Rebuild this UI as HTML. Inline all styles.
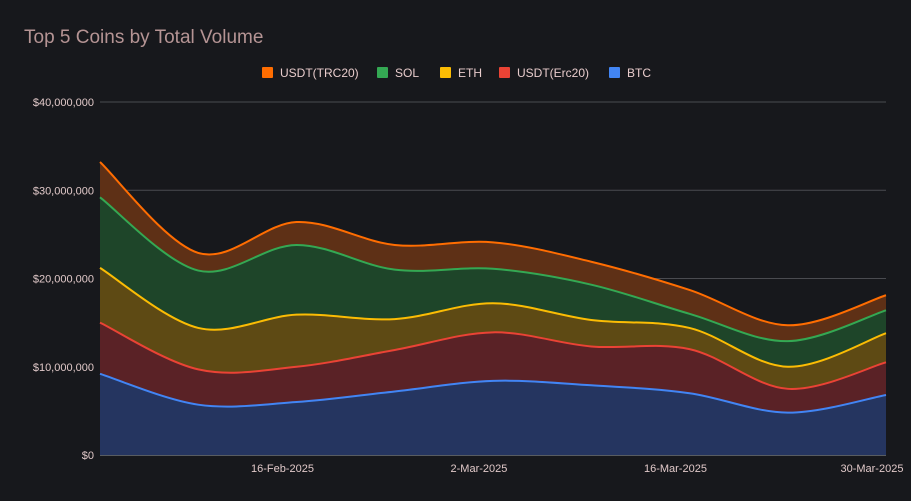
<!DOCTYPE html>
<html><head><meta charset="utf-8"><style>
html,body{margin:0;padding:0;background:#17181c;}
svg{display:block;font-family:"Liberation Sans",Arial,sans-serif;}
</style></head><body>
<svg id="chart" width="911" height="501">
<rect width="911" height="501" fill="#17181c"/>
<text x="24" y="43" font-size="19" fill="#b59494">Top 5 Coins by Total Volume</text>
<g id="grid"></g><g id="areas"></g><g id="lines"></g><g id="axes"></g><g id="legend"></g>
</svg>
<script>
const seriesNames = ["BTC","USDT(Erc20)","ETH","SOL","USDT(TRC20)"];
const dates = ["2025-02-03","2025-02-10","2025-02-17","2025-02-24","2025-03-03","2025-03-10","2025-03-17","2025-03-24","2025-03-31"];
const btc =   [9.2,5.7,6.0,7.2,8.4,7.9,7.0,4.8,6.8];
const erc20 = [5.8,4.0,4.0,4.7,5.5,4.4,5.0,2.7,3.7];
const eth =   [6.2,4.7,5.9,3.5,3.3,3.0,2.4,2.5,3.3];
const sol =   [8.0,6.5,7.9,5.6,3.9,4.0,1.6,2.9,2.6];
const trc20 = [4.0,2.0,2.6,2.8,3.0,2.6,2.7,1.8,1.7];
const yTicks = [0,10,20,30,40];
const yTickLabels = ["$0","$10,000,000","$20,000,000","$30,000,000","$40,000,000"];
const xTickDates = ["2025-02-16","2025-03-02","2025-03-16","2025-03-30"];
const xTickLabels = ["16-Feb-2025","2-Mar-2025","16-Mar-2025","30-Mar-2025"];

const NS="http://www.w3.org/2000/svg";
const L=100,R=886,T=102,B=455;
const t0=Date.parse(dates[0]),t1=Date.parse(dates[dates.length-1]);
const x=d=>L+(Date.parse(d)-t0)/(t1-t0)*(R-L);
const y=v=>B-v/40*(B-T);
function mk(tag,attrs,parent){const e=document.createElementNS(NS,tag);for(const k in attrs)e.setAttribute(k,attrs[k]);parent.appendChild(e);return e;}
const grid=document.getElementById('grid'),axes=document.getElementById('axes');
yTicks.forEach((v,i)=>{
  const g=mk('line',{x1:L,x2:R,y1:y(v),y2:y(v),stroke:v===0?'#9aa0a6':'#4a4b50','stroke-width':1},grid);
  
  
  const t=mk('text',{x:94,y:y(v)+4,'text-anchor':'end','font-size':11,fill:'#e0c8c8'},axes);
  t.textContent=yTickLabels[i];
  
  
});
xTickDates.forEach((d,i)=>{
  const last=i===xTickDates.length-1;
  const t=mk('text',{x:last?Math.min(x(d)+36,908)-36:x(d),y:472,'text-anchor':'middle','font-size':11,fill:'#e0c8c8'},axes);
  t.textContent=xTickLabels[i];
  
  
});
function smooth(pts){
  let d='';
  for(let i=0;i<pts.length-1;i++){
    const p0=pts[Math.max(i-1,0)],p1=pts[i],p2=pts[i+1],p3=pts[Math.min(i+2,pts.length-1)];
    const c1=[p1[0]+(p2[0]-p0[0])/6,p1[1]+(p2[1]-p0[1])/6];
    const c2=[p2[0]-(p3[0]-p1[0])/6,p2[1]-(p3[1]-p1[1])/6];
    d+=`C${c1[0]},${c1[1]} ${c2[0]},${c2[1]} ${p2[0]},${p2[1]}`;
  }
  return d;
}
const all=[btc,erc20,eth,sol,trc20];
const lineCols=["#4285f4","#ea4335","#fbbc04","#34a853","#ff6d01"];
const fillCols=["#253560","#5a2226","#5e4a14","#1e4529","#5e3016"];
const keys=["btc","usdt-erc20","eth","sol","usdt-trc20"];
let cum=dates.map(()=>0);
const areas=document.getElementById('areas'),lines=document.getElementById('lines');
all.forEach((s,k)=>{
  const low=cum.slice();cum=cum.map((c,i)=>c+s[i]);
  const top=dates.map((d,i)=>[x(d),y(cum[i])]);
  const bot=dates.map((d,i)=>[x(d),y(low[i])]).reverse();
  const dTop='M'+top[0]+smooth(top);
  const a=mk('path',{d:dTop+'L'+bot[0]+smooth(bot)+'Z',fill:fillCols[k]},areas);
  
  
  const l=mk('path',{d:dTop,fill:'none',stroke:lineCols[k],'stroke-width':2},lines);
  
  
});
const leg=document.getElementById('legend');
const legItems=[[4,262],[3,377],[2,440],[1,499],[0,609]];
legItems.forEach(([k,lx])=>{
  const r=mk('rect',{x:lx,y:67,width:11,height:11,rx:1,fill:lineCols[k]},leg);
  
  
  const t=mk('text',{x:lx+18,y:77,'font-size':12,fill:'#e8cccc'},leg);
  t.textContent=seriesNames[k];
  
  
});
</script>
</body></html>
